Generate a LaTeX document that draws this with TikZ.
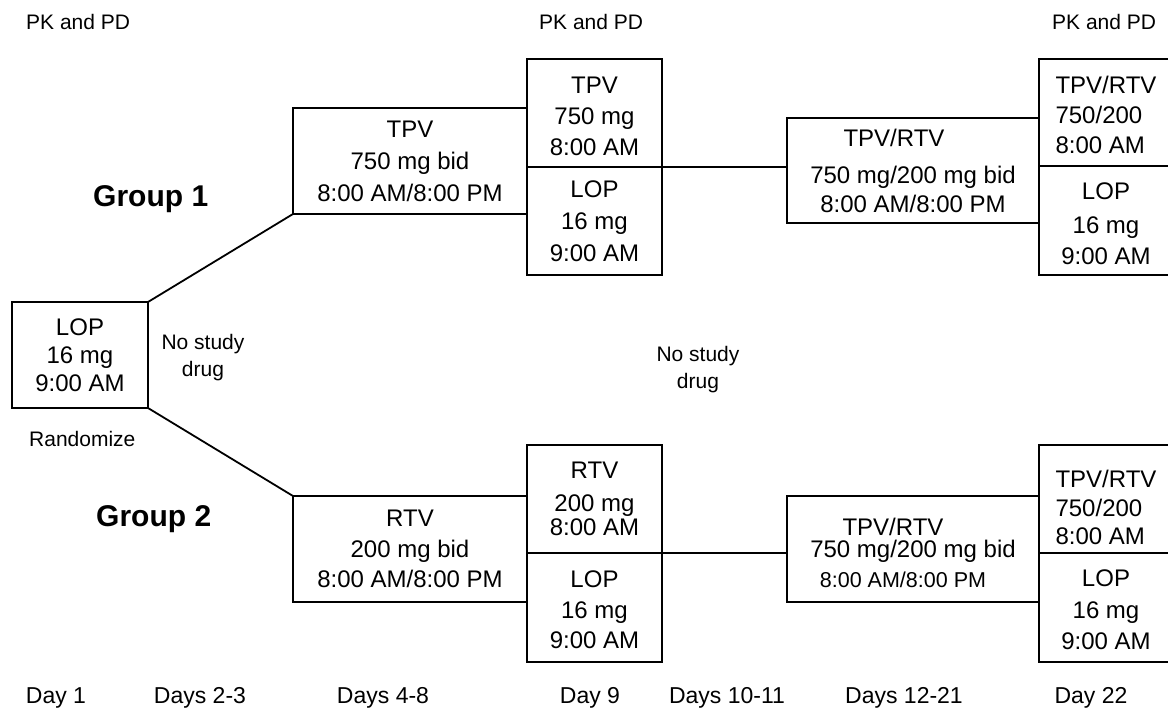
\documentclass[tikz,border=0pt]{standalone}
\usepackage{fontspec}
\setmainfont{Liberation Sans}
\begin{document}
\begin{tikzpicture}[x=1pt,y=-1pt,
  box/.style={draw, line width=1.8pt, inner sep=0pt, outer sep=0pt, align=center, anchor=north west},
  sz/.style 2 args={minimum width=#1, minimum height=#2},
  fs/.style={font=\fontsize{24}{#1}\selectfont},
  lbl/.style={inner sep=0pt, font=\fontsize{21}{27}\selectfont},
  day/.style={inner sep=0pt, anchor=base, font=\fontsize{23}{28}\selectfont},
  grp/.style={inner sep=0pt, anchor=base west, font=\fontsize{30}{36}\selectfont\bfseries},
  conn/.style={line width=1.8pt}]
\useasboundingbox (0,0) rectangle (1168,714);
\clip (0,0) rectangle (1168,714);

% top labels
\node[lbl, anchor=base west] (pk1) at (26,30) {PK and PD};
\node[lbl, anchor=base west] (pk2) at (539,30) {PK and PD};
\node[lbl, anchor=base west] (pk3) at (1052,30) {PK and PD};

% group labels
\node[grp] (g1) at (93,207) {Group 1};
\node[grp] (g2) at (96,526) {Group 2};

% start box
\node[box, sz={136}{106}, fs=28] (lop) at (12,302) {LOP\\16 mg\\9:00 AM};
\node[lbl, anchor=base west] (rand) at (29,446) {Randomize};
\node[lbl, align=center] (ns1) at (203,358) {No study\\drug};
\node[lbl, align=center] (ns2) at (698,370) {No study\\drug};

% group 1 row
\node[box, sz={234}{106}, fs=32] (tpv) at (293,108) {TPV\\750 mg bid\\8:00 AM/8:00 PM};
\node[box, sz={135}{108}, fs=31] (d9a) at (527,59) {\rule{0pt}{23pt}TPV\\750 mg\\8:00 AM};
\node[box, sz={135}{108}, fs=32] (d9b) at (527,167) {LOP\\16 mg\\9:00 AM};
\node[box, sz={252}{105}, fs=29] (tr1) at (787,118) {TPV/RTV\hspace*{38pt}\\[8pt]750 mg/200 mg bid\\8:00 AM/8:00 PM};
\node[box, sz={134}{107}, fs=30, align=left] (r1a) at (1039,59) {\rule{0pt}{23pt}TPV/RTV\\750/200\\8:00 AM};
\node[box, sz={134}{109}, fs=31] (r1b) at (1039,166) {\rule{0pt}{24pt}LOP\\[3pt]16 mg\\9:00 AM};

% group 2 row
\node[box, sz={234}{106}, fs=30.5] (rtv) at (293,496) {RTV\\200 mg bid\\8:00 AM/8:00 PM};
\node[box, sz={135}{108}, fs=33] (d9c) at (527,445) {RTV\\200 mg\\[-9pt]8:00 AM};
\node[box, sz={135}{109}, fs=30.5] (d9d) at (527,553) {\rule{0pt}{22pt}LOP\\16 mg\\9:00 AM};
\node[box, sz={252}{106}, fs=30] (tr2) at (787,496) {\rule{0pt}{25pt}TPV/RTV\hspace*{40pt}\\[-8pt]750 mg/200 mg bid\\{\fontsize{21.5}{30}\selectfont 8:00 AM/8:00 PM\hspace*{20pt}}};
\node[box, sz={134}{108}, fs=28.5, align=left] (r2a) at (1039,445) {\rule{0pt}{35pt}TPV/RTV\\750/200\\8:00 AM};
\node[box, sz={134}{109}, fs=31.5] (r2b) at (1039,553) {\rule{0pt}{22pt}LOP\\16 mg\\9:00 AM};

% connectors
\draw[conn] (lop.north east) -- (tpv.south west);
\draw[conn] (lop.south east) -- (rtv.north west);
\draw[conn] (d9a.south east) -- (d9a.south east -| tr1.west);
\draw[conn] (d9c.south east) -- (d9c.south east -| tr2.west);

% day labels
\node[day] (day1) at (56,703) {Day 1};
\node[day] (day23) at (200,703) {Days 2-3};
\node[day] (day48) at (383,703) {Days 4-8};
\node[day] (day9) at (590,703) {Day 9};
\node[day] (day1011) at (727,703) {Days 10-11};
\node[day] (day1221) at (904,703) {Days 12-21};
\node[day] (day22) at (1091,703) {Day 22};
\end{tikzpicture}
\end{document}
